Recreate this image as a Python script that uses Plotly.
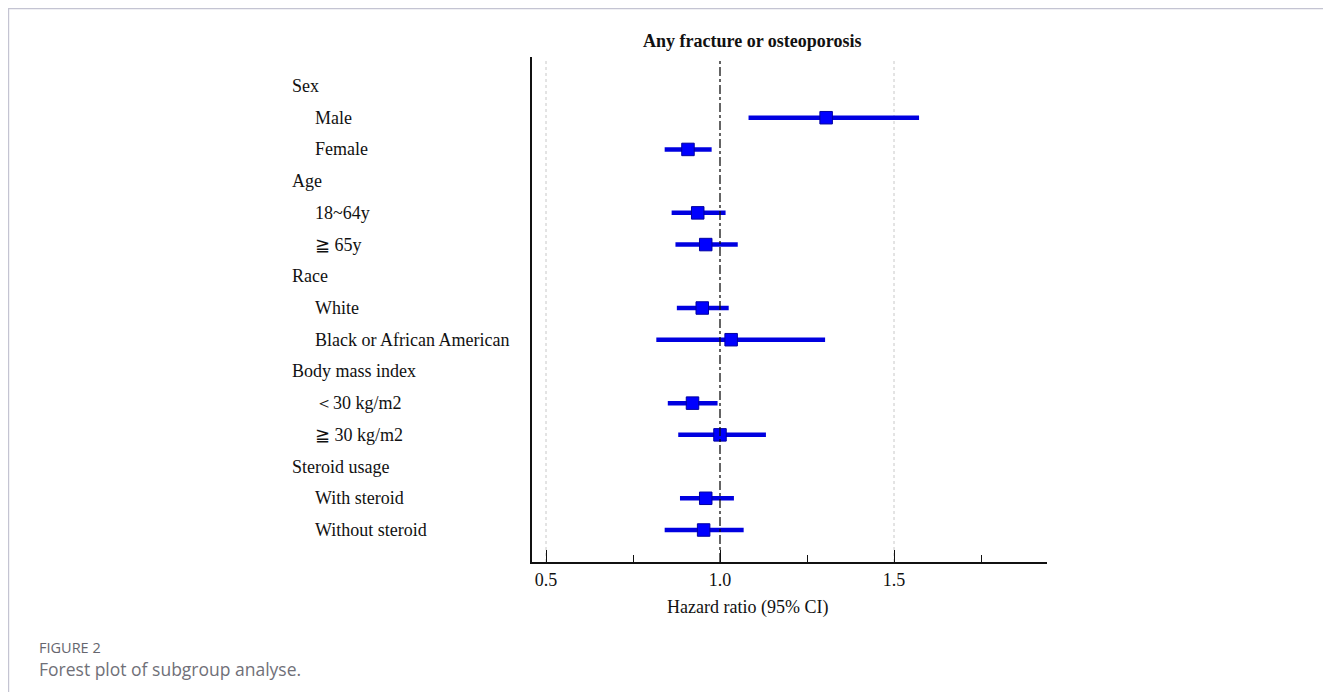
import plotly.graph_objects as go

labels = ["Sex", "Male", "Female", "Age", "18~64y", "≧ 65y", "Race", "White",
          "Black or African American", "Body mass index", "＜30 kg/m2", "≧ 30 kg/m2",
          "Steroid usage", "With steroid", "Without steroid"]
is_header = [True, False, False, True, False, False, True, False, False, True, False, False, True, False, False]
hr =    [None, 1.305, 0.908, None, 0.936, 0.959, None, 0.949, 1.032, None, 0.921, 1.000, None, 0.959, 0.953]
lower = [None, 1.082, 0.841, None, 0.861, 0.872, None, 0.876, 0.817, None, 0.850, 0.880, None, 0.885, 0.841]
upper = [None, 1.572, 0.976, None, 1.016, 1.051, None, 1.025, 1.302, None, 0.993, 1.132, None, 1.040, 1.068]
tick_vals = [0.5, 1.0, 1.5]
tick_text = ["0.5", "1.0", "1.5"]

OFF = 8  # browser body margin
W, H = 1331 - OFF, 692 - OFF
L, R, T, B = 532, 1047, 57, 562  # screen pixel positions of plot area

def px(x):
    return (x - L) / (R - L)

def py(y):
    return (B - y) / (B - T)

rows = list(range(len(labels)))
pr_rows = [i for i in rows if hr[i] is not None]

fig = go.Figure()
fig.add_trace(go.Scatter(
    x=[hr[i] for i in pr_rows],
    y=pr_rows,
    mode="markers",
    marker=dict(symbol="square", size=12.5, color="#0000FF", line=dict(color="#0000A0", width=1)),
    error_x=dict(type="data", symmetric=False,
                 array=[upper[i] - hr[i] for i in pr_rows],
                 arrayminus=[hr[i] - lower[i] for i in pr_rows],
                 color="#0000E0", thickness=4.5, width=0),
    showlegend=False, hoverinfo="skip",
))

serif = "Liberation Serif, Times New Roman, serif"
FS = 18
annotations = []
for i, lab in enumerate(labels):
    annotations.append(dict(
        x=px(290 if is_header[i] else 313), xref="paper", y=i, yref="y",
        text=lab, showarrow=False, xanchor="left", yanchor="middle",
        font=dict(family=serif, size=FS, color="#111")))
annotations.append(dict(x=px(752), xref="paper", y=py(41), yref="paper",
                        text="<b>Any fracture or osteoporosis</b>", showarrow=False,
                        xanchor="center", yanchor="middle",
                        font=dict(family=serif, size=18, color="#111")))
annotations.append(dict(x=px(747), xref="paper", y=py(607), yref="paper",
                        text="Hazard ratio (95% CI)", showarrow=False,
                        xanchor="center", yanchor="middle",
                        font=dict(family=serif, size=FS, color="#111")))
annotations.append(dict(x=px(37), xref="paper", y=py(647), yref="paper",
                        text="FIGURE 2", showarrow=False, xanchor="left", yanchor="middle",
                        font=dict(family="Open Sans, sans-serif", size=14.5, color="#66666e")))
annotations.append(dict(x=px(37), xref="paper", y=py(669), yref="paper",
                        text="Forest plot of subgroup analyse.", showarrow=False,
                        xanchor="left", yanchor="middle",
                        font=dict(family="Open Sans, sans-serif", size=17.5, color="#707078")))

shapes = [
    dict(type="line", xref="x", yref="paper", x0=1.0, x1=1.0, y0=0, y1=py(60),
         line=dict(color="#111", width=1.3, dash="dashdot")),
    dict(type="line", xref="paper", yref="paper", x0=px(8), x1=px(1331), y0=py(8.6), y1=py(8.6),
         line=dict(color="#c4c4d2", width=1.2)),
    dict(type="line", xref="paper", yref="paper", x0=px(8.6), x1=px(8.6), y0=py(8.6), y1=py(692),
         line=dict(color="#c4c4d2", width=1.2)),
]
for gv in [0.5, 1.5]:
    shapes.append(dict(type="line", xref="x", yref="paper", x0=gv, x1=gv, y0=0, y1=py(60),
                       line=dict(color="#c8c8c8", width=1, dash="dot"), layer="below"))

row_px = (530 - 86) / 14
y_top = -(86 - T) / row_px
y_bot = 14 + (B - 530) / row_px

x0v = 0.5 - (546 - L) / 348
x1v = 1.0 + (R - 720) / 348

fig.update_layout(
    width=W, height=H,
    margin=dict(l=L - OFF, r=1331 - R, t=T - OFF, b=692 - B),
    paper_bgcolor="white", plot_bgcolor="white",
    xaxis=dict(range=[x0v, x1v], tickvals=tick_vals, ticktext=tick_text,
               ticks="inside", ticklen=12, tickwidth=1.2, tickcolor="#111",
               showline=True, linecolor="#111", linewidth=1.8, showgrid=False, zeroline=False,
               minor=dict(tickvals=[0.75, 1.25, 1.75], ticks="inside", ticklen=7,
                          tickwidth=1.2, tickcolor="#111", showgrid=False),
               tickfont=dict(family=serif, size=FS, color="#111")),
    yaxis=dict(range=[y_bot, y_top], showline=True, linecolor="#111", linewidth=1.8,
               showticklabels=False, ticks="", showgrid=False, zeroline=False),
    annotations=annotations, shapes=shapes,
)

fig.write_html("out.html")
